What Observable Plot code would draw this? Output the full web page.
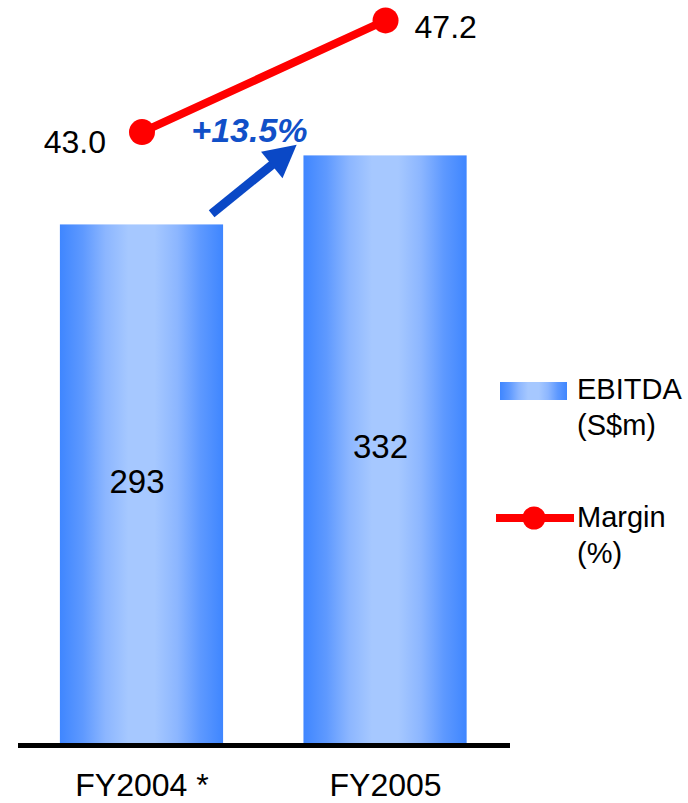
<!DOCTYPE html>
<html>
<head>
<meta charset="utf-8">
<script src="https://cdn.jsdelivr.net/npm/d3@7"></script>
<script src="https://cdn.jsdelivr.net/npm/@observablehq/plot@0.6"></script>
<style>
  body { margin: 0; background: #fff; font-family: "Liberation Sans", Arial, sans-serif; }
  #wrap { position: relative; width: 688px; height: 803px; overflow: hidden; }
  #wrap svg.plot { position: absolute; left: 0; top: 0; }
  .lg { position: absolute; font-size: 29px; line-height: 36px; color: #000; white-space: nowrap; }
  .swatch { position: absolute; left: 500px; top: 382px; width: 67px; height: 18px;
    background: linear-gradient(to right, #3f86ff 0%, #5e99ff 14%, #8cb6ff 28%, #a6c8ff 42%, #a6c8ff 58%, #8cb6ff 72%, #5e99ff 86%, #3f86ff 100%); }
  .lgline { position: absolute; left: 496px; top: 505px; }
</style>
</head>
<body>
<div id="wrap">
  <div class="swatch"></div>
  <div class="lg" style="left:577px; top:371px;">EBITDA<br>(S$m)</div>
  <svg class="lgline" width="80" height="26"><line x1="0" x2="78" y1="13" y2="13" stroke="#ff0000" stroke-width="8"/><circle cx="38" cy="13" r="11.5" fill="#ff0000"/></svg>
  <div class="lg" style="left:577px; top:499px;">Margin<br>(%)</div>
</div>
<script>
// ---- data ----
const categories = ["FY2004 *", "FY2005"];
const ebitda = [293, 332];          // S$m
const marginPct = [43.0, 47.2];     // %
const growthLabel = "+13.5%";

// secondary (margin) axis: margin value -> position in EBITDA units
const marginBase = 20;      // margin value at the baseline
const marginScale = 15.02;  // EBITDA units per margin point
const toY = m => (m - marginBase) * marginScale;

const rows = categories.map((c, i) => ({ i, cat: c, ebitda: ebitda[i], margin: marginPct[i], my: toY(marginPct[i]) }));

// annotation anchors (data space)
const arrowFrom = [0.288, 299];
const arrowTo = [0.637, 338];
const growthPos = [{ x: 0.441, y: 346, label: growthLabel }];

function gradientDefs() {
  const defs = d3.create("svg:defs");
  const g = defs.append("linearGradient").attr("id", "ebitdaGrad").attr("x1", "0").attr("x2", "1").attr("y1", "0").attr("y2", "0");
  const stops = [[0, "#3f86ff"], [0.14, "#5e99ff"], [0.28, "#8cb6ff"], [0.42, "#a6c8ff"], [0.58, "#a6c8ff"], [0.72, "#8cb6ff"], [0.86, "#5e99ff"], [1, "#3f86ff"]];
  for (const [o, c] of stops) g.append("stop").attr("offset", o).attr("stop-color", c);
  return defs.node();
}

function growthArrow(index, scales) {
  const x0 = scales.x(arrowFrom[0]), y0 = scales.y(arrowFrom[1]);
  const x1 = scales.x(arrowTo[0]), y1 = scales.y(arrowTo[1]);
  const L = Math.hypot(x1 - x0, y1 - y0);
  const ux = (x1 - x0) / L, uy = (y1 - y0) / L;
  const nx = -uy, ny = ux;
  const headLen = 32, headHalf = 17;
  const bx = x1 - ux * headLen, by = y1 - uy * headLen;
  const g = d3.create("svg:g");
  g.append("line").attr("x1", x0).attr("y1", y0).attr("x2", bx + ux * 2).attr("y2", by + uy * 2)
    .attr("stroke", "#0a48c6").attr("stroke-width", 9);
  g.append("path").attr("d", `M${x1},${y1}L${bx + nx * headHalf},${by + ny * headHalf}L${bx - nx * headHalf},${by - ny * headHalf}Z`)
    .attr("fill", "#0a48c6");
  return g.node();
}

const chart = Plot.plot({
  width: 688,
  height: 803,
  marginLeft: 18,
  marginRight: 178,
  marginTop: 0,
  marginBottom: 60,
  style: { fontFamily: "'Liberation Sans', Arial, sans-serif", fontSize: "32px", color: "#000", background: "transparent" },
  x: { type: "linear", domain: [-0.507, 1.513] },
  y: { domain: [0, 419.8], axis: null },
  marks: [
    gradientDefs,
    Plot.rectY(rows, { x1: d => d.i - 0.335, x2: d => d.i + 0.335, y1: 0, y2: "ebitda", fill: "url(#ebitdaGrad)" }),
    Plot.ruleY([0], { stroke: "#000", strokeWidth: 5, dy: 2 }),
    Plot.text(rows, { x: "i", y: d => d.ebitda / 2, text: d => String(d.ebitda), fontSize: 33, dx: -5, dy: -2, fill: "#000" }),
    Plot.line(rows, { x: "i", y: "my", stroke: "#ff0000", strokeWidth: 8 }),
    Plot.dot(rows, { x: "i", y: "my", r: 13, fill: "#ff0000", stroke: "none" }),
    Plot.text(rows.filter(d => d.i === 0), { x: "i", y: "my", text: d => d.margin.toFixed(1), textAnchor: "end", dx: -36, dy: 11, fontSize: 32, fill: "#000" }),
    Plot.text(rows.filter(d => d.i === 1), { x: "i", y: "my", text: d => d.margin.toFixed(1), textAnchor: "start", dx: 29, dy: 7, fontSize: 32, fill: "#000" }),
    growthArrow,
    Plot.text(growthPos, { x: "x", y: "y", text: "label", fontSize: 34, fontWeight: "bold", fontStyle: "italic", fill: "#1150c8" }),
    Plot.axisX({ ticks: [0, 1], tickFormat: i => categories[i], tickSize: 0, tickPadding: 30, fontSize: 32 })
  ]
});
chart.classList.add("plot");
document.getElementById("wrap").prepend(chart);
</script>
</body>
</html>
